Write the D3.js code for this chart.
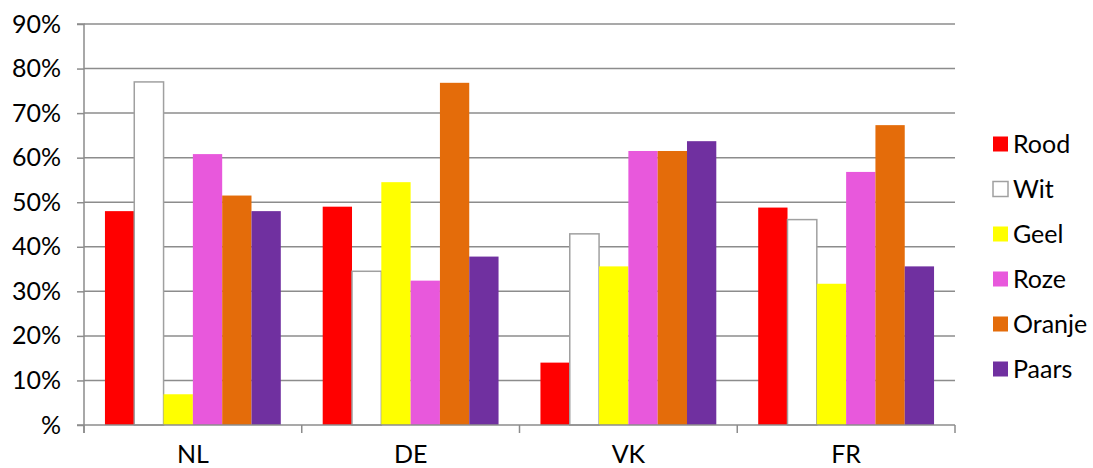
<!DOCTYPE html>
<html><head><meta charset="utf-8">
<script src="https://cdn.jsdelivr.net/npm/d3@7"></script>
<style>body{margin:0;background:#fff}svg{display:block}text{font-family:Lato,"Open Sans",sans-serif;fill:#000}</style>
</head><body><svg id="c" width="1093" height="468"></svg>
<script>
const categories = ["NL","DE","VK","FR"];
const seriesNames = ["Rood","Wit","Geel","Roze","Oranje","Paars"];
const rood   = [48, 49, 14, 48.8];
const wit    = [77, 34.5, 42.9, 46.1];
const geel   = [6.9, 54.5, 35.6, 31.7];
const roze   = [60.8, 32.4, 61.5, 56.8];
const oranje = [51.5, 76.8, 61.5, 67.3];
const paars  = [48, 37.8, 63.7, 35.6];
const yTicks = [0,10,20,30,40,50,60,70,80,90];
const colors = ["#FF0000","#FFFFFF","#FFFF00","#E858DC","#E46C0A","#7030A0"];
const seriesVals = [rood,wit,geel,roze,oranje,paars];

const svg = d3.select("#c");
const L=84, R=955, T=24, B=425;
const x0 = d3.scaleBand().domain(categories).range([L,R]).paddingInner(0).paddingOuter(0);
const gap = 1.43;
const x1 = d3.scaleBand().domain(seriesNames).range([0,x0.bandwidth()]).paddingInner(0).paddingOuter(gap/2);
const y = d3.scaleLinear().domain([0,90]).range([B,T]);

// gridlines
svg.append("g").selectAll("line").data(yTicks.slice(1)).join("line")
  .attr("x1",L).attr("x2",R).attr("y1",d=>y(d)).attr("y2",d=>y(d))
  .attr("stroke","#8c8c8c").attr("stroke-width",1.5);

// bars
const groups = svg.append("g").selectAll("g").data(categories).join("g")
  .attr("transform",c=>`translate(${x0(c)},0)`);
groups.selectAll("rect").data((c,ci)=>seriesNames.map((s,si)=>({s,si,v:seriesVals[si][ci]}))).join("rect")
  .attr("x",d=>x1(d.s)).attr("width",x1.bandwidth())
  .attr("y",d=>y(d.v)).attr("height",d=>y(0)-y(d.v))
  .attr("fill",d=>colors[d.si])
  .attr("stroke",d=>d.s==="Wit"?"#a0a0a0":"none").attr("stroke-width",1.5);

// y axis
const ya = d3.axisLeft(y).tickValues(yTicks).tickSize(7).tickFormat(d=>d===0?"%":d+"%");
const yg = svg.append("g").attr("transform",`translate(${L},0)`).call(ya);
yg.select(".domain").attr("stroke","#8c8c8c").attr("stroke-width",1.5).attr("d",`M-7,${T}H0V${B+8}`);
yg.selectAll(".tick line").attr("stroke","#8c8c8c").attr("stroke-width",1.5);
yg.selectAll(".tick text").attr("x",-23).attr("font-size",25).attr("font-family","Lato, sans-serif").attr("fill","#000");

// x axis
const xg = svg.append("g").attr("transform",`translate(0,${B})`);
xg.append("line").attr("x1",L-7).attr("x2",R).attr("y1",0).attr("y2",0).attr("stroke","#8c8c8c").attr("stroke-width",1.5);
const bounds = categories.map(c=>x0(c)).concat([R]);
xg.selectAll("line.t").data(bounds).join("line").attr("class","t")
  .attr("x1",d=>d).attr("x2",d=>d).attr("y1",0).attr("y2",8).attr("stroke","#8c8c8c").attr("stroke-width",1.5);
xg.selectAll("text").data(categories).join("text")
  .attr("x",c=>x0(c)+x0.bandwidth()/2).attr("y",38).attr("text-anchor","middle").attr("font-size",25).text(c=>c);

// legend
const lg = svg.append("g").selectAll("g").data(seriesNames).join("g")
  .attr("transform",(d,i)=>`translate(993,${143.5+i*45})`);
lg.append("rect").attr("x",0).attr("y",-7).attr("width",15).attr("height",15)
  .attr("fill",(d,i)=>colors[i]).attr("stroke",(d,i)=>i===1?"#a0a0a0":"none").attr("stroke-width",1.5);
lg.append("text").attr("x",20).attr("y",0).attr("dy","0.36em").attr("font-size",25).text(d=>d);
</script></body></html>
